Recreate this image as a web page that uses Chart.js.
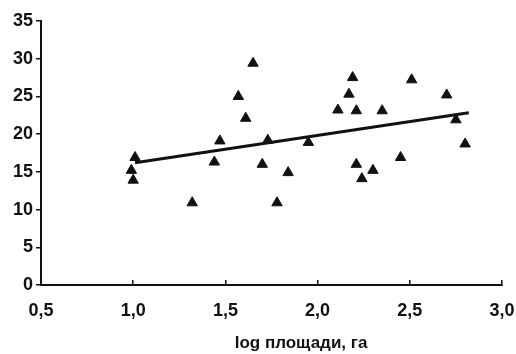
<!DOCTYPE html>
<html>
<head>
<meta charset="utf-8">
<script src="https://cdn.jsdelivr.net/npm/chart.js@4/dist/chart.umd.min.js"></script>
<style>
  html, body { margin: 0; padding: 0; background: #fff; }
  #wrap { width: 516px; height: 354px; }
</style>
</head>
<body>
<div id="wrap"><canvas id="myChart" width="516" height="354"></canvas></div>
<script>
let xVals = [0.99, 1.01, 1.00, 1.32, 1.44, 1.47, 1.57, 1.61, 1.65, 1.70,
             1.73, 1.78, 1.84, 1.95, 2.11, 2.17, 2.19, 2.21, 2.21, 2.24,
             2.30, 2.35, 2.45, 2.51, 2.70, 2.75, 2.80];
let yVals = [15.2, 16.9, 13.9, 10.9, 16.3, 19.1, 25.0, 22.1, 29.4, 16.0,
             19.2, 10.9, 14.9, 18.9, 23.2, 25.3, 27.5, 23.1, 16.0, 14.1,
             15.2, 23.1, 16.9, 27.2, 25.2, 21.9, 18.7];
// regression line end points
let lineX = [1.01, 2.82];
let lineY = [16.2, 22.85];

let xTickLabels = ["0,5", "1,0", "1,5", "2,0", "2,5", "3,0"];
let yTickLabels = ["0", "5", "10", "15", "20", "25", "30", "35"];
let xTitle = "log площади, га";

let ink = "#111";
let tickFont = { family: "Liberation Sans, Arial, sans-serif", size: 18, weight: "bold" };

let points = xVals.map((x, i) => ({ x: x, y: yVals[i] }));
let trend = lineX.map((x, i) => ({ x: x, y: lineY[i] }));

// axis title sits right of the axis centre in the original, so draw it by hand
let axisTitle = {
    id: "axisTitle",
    afterDraw(chart) {
        let ctx = chart.ctx;
        let xs = chart.scales.x;
        ctx.save();
        ctx.fillStyle = ink;
        ctx.font = "bold 17px Liberation Sans, Arial, sans-serif";
        ctx.textAlign = "center";
        ctx.textBaseline = "middle";
        ctx.fillText(xTitle, xs.getPixelForValue(1.91), 343);
        ctx.restore();
    }
};

let myChart = new Chart(document.getElementById("myChart"), {
    type: "scatter",
    data: {
        datasets: [{
            data: points,
            pointStyle: "triangle",
            pointRadius: 6,
            pointHoverRadius: 6,
            backgroundColor: ink,
            borderColor: ink,
            borderWidth: 1
        },
        {
            type: "line",
            data: trend,
            borderColor: ink,
            borderWidth: 3,
            pointRadius: 0,
            fill: false
        }]
    },
    options: {
        responsive: false,
        animation: false,
        layout: { padding: { top: 21, right: 14, left: 0, bottom: 0 } },
        plugins: { legend: { display: false }, tooltip: { enabled: false } },
        scales: {
            x: {
                type: "linear",
                min: 0.5,
                max: 3.0,
                afterBuildTicks(scale) {
                    scale.ticks = xTickLabels.map(t => ({ value: parseFloat(t.replace(",", ".")) }));
                },
                afterFit(scale) {
                    scale.height = 69;
                    scale.paddingLeft = 0;
                    scale.paddingRight = 0;
                },
                ticks: {
                    color: ink,
                    font: tickFont,
                    padding: 20,
                    maxRotation: 0,
                    callback: (v, i) => xTickLabels[i]
                },
                grid: {
                    drawOnChartArea: false,
                    color: ink,
                    tickLength: -5,
                    lineWidth: 1.5
                },
                border: { color: ink, width: 2 }
            },
            y: {
                min: 0,
                max: 35,
                afterBuildTicks(scale) {
                    scale.ticks = yTickLabels.map(t => ({ value: parseFloat(t) }));
                },
                afterFit(scale) {
                    scale.width = 41;
                    scale.paddingTop = 0;
                    scale.paddingBottom = 0;
                },
                ticks: {
                    color: ink,
                    font: tickFont,
                    padding: 3,
                    callback: (v, i) => yTickLabels[i]
                },
                grid: {
                    drawOnChartArea: false,
                    color: ink,
                    tickLength: 5,
                    lineWidth: 1.5
                },
                border: { color: ink, width: 2 }
            }
        }
    },
    plugins: [axisTitle]
});
</script>
</body>
</html>
